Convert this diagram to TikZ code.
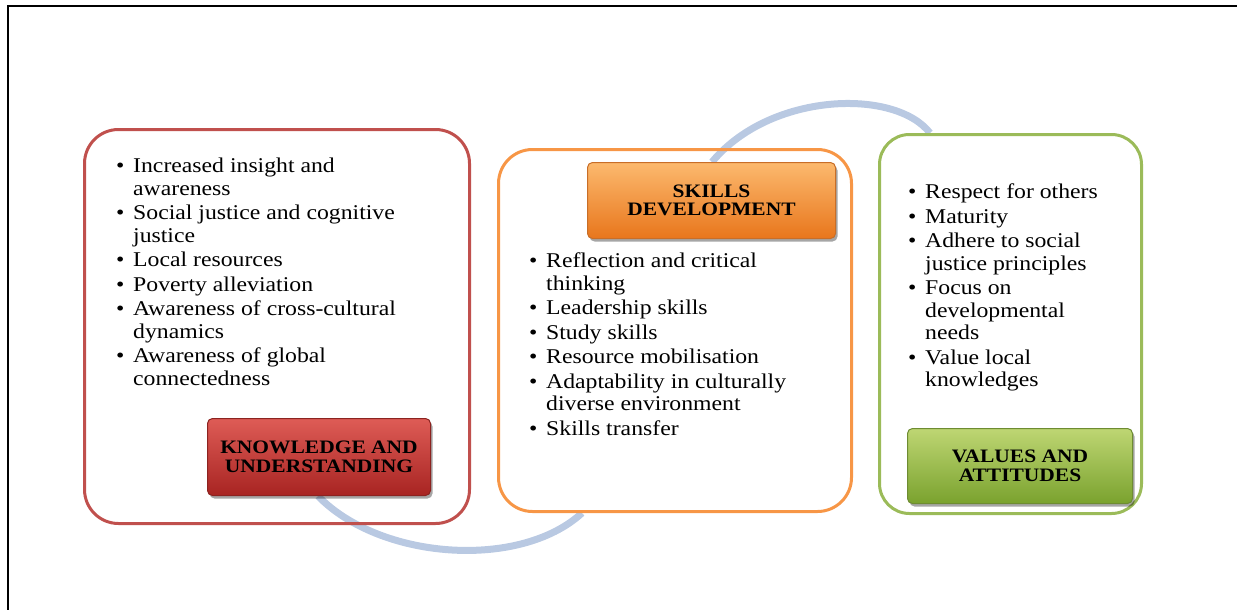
\documentclass[tikz,border=0pt]{standalone}
\usepackage{fontspec}
\usepackage{array}
\setmainfont{Liberation Serif}[FakeStretch=1.13]
\usetikzlibrary{shadows,calc,backgrounds}
\definecolor{redline}{RGB}{192,80,77}
\definecolor{orangeline}{RGB}{247,150,70}
\definecolor{greenline}{RGB}{155,187,89}
\definecolor{arcblue}{RGB}{185,201,226}
\definecolor{redtop}{RGB}{222,92,86}
\definecolor{redbot}{RGB}{168,36,34}
\definecolor{redbrd}{RGB}{140,35,32}
\definecolor{ortop}{RGB}{252,185,110}
\definecolor{orbot}{RGB}{232,118,28}
\definecolor{orbrd}{RGB}{200,110,40}
\definecolor{grtop}{RGB}{190,214,115}
\definecolor{grbot}{RGB}{122,162,46}
\definecolor{grbrd}{RGB}{110,140,50}
\tikzset{
  bigbox/.style={draw=#1, line width=3pt, rounded corners=34pt, anchor=north west, inner sep=0pt},
  headbox/.style={rounded corners=5pt, anchor=north west, align=center, inner sep=0pt,
     line width=1pt, font=\fontsize{19pt}{18.5pt}\selectfont\bfseries,
     drop shadow={shadow xshift=2pt, shadow yshift=-3pt, opacity=0.35, fill=black}},
  listtext/.style={anchor=base west, inner sep=0pt, font=\fontsize{21pt}{22.5pt}\selectfont},
  linkarc/.style={draw=arcblue, line width=7pt}
}
\newcommand{\bul}{\textbullet}
\begin{document}
\begin{tikzpicture}[x=1pt,y=-1pt]
\useasboundingbox (0,0) rectangle (1237,610);
% frame
\draw[line width=2.2pt] (8,610) -- (8,6) -- (1237,6);
% big boxes
\node[bigbox=redline, minimum width=385pt, minimum height=394pt] (kb) at (83,128) {};
\node[bigbox=orangeline, minimum width=353pt, minimum height=362pt] (sb) at (497,148) {};
\node[bigbox=greenline, rounded corners=30pt, minimum width=262pt, minimum height=379pt] (vb) at (878,133) {};
% headings
\node[headbox, top color=redtop, bottom color=redbot, draw=redbrd,
  minimum width=223pt, minimum height=77pt] (kh) at (207,418) {KNOWLEDGE AND\\UNDERSTANDING};
\node[headbox, top color=ortop, bottom color=orbot, draw=orbrd,
  minimum width=248pt, minimum height=76pt] (sh) at (587,162) {SKILLS\\DEVELOPMENT};
\node[headbox, top color=grtop, bottom color=grbot, draw=grbrd,
  minimum width=225pt, minimum height=75pt] (vh) at (907,428) {VALUES AND\\ATTITUDES};
% arcs behind the headings
\begin{scope}[on background layer]
\draw[linkarc] ($(kh.south west)+(111pt,0)$) .. controls (380,560) and (520,570) .. ($(sb.south west)+(85pt,0)$);
\draw[linkarc] ($(sh.north west)+(125pt,0)$) .. controls (770,92) and (895,88) .. ($(vb.north west)+(52pt,0)$);
\end{scope}
% lists
\node[listtext] (kl) at (116,172.5) {\begin{tabular}[t]{@{}w{l}{17pt}@{}l@{}}
\bul & Increased insight and\\ & awareness\\[2pt]
\bul & Social justice and cognitive\\ & justice\\[2pt]
\bul & Local resources\\[2pt]
\bul & Poverty alleviation\\[2pt]
\bul & Awareness of cross-cultural\\ & dynamics\\[2pt]
\bul & Awareness of global\\ & connectedness
\end{tabular}};
\node[listtext] (sl) at (529,267.5) {\begin{tabular}[t]{@{}w{l}{17pt}@{}l@{}}
\bul & Reflection and critical\\ & thinking\\[2pt]
\bul & Leadership skills\\[2pt]
\bul & Study skills\\[2pt]
\bul & Resource mobilisation\\[2pt]
\bul & Adaptability in culturally\\ & diverse environment\\[2pt]
\bul & Skills transfer
\end{tabular}};
\node[listtext] (vl) at (908,198.5) {\begin{tabular}[t]{@{}w{l}{17pt}@{}l@{}}
\bul & Respect for others\\[2pt]
\bul & Maturity\\[2pt]
\bul & Adhere to social\\ & justice principles\\[2pt]
\bul & Focus on\\ & developmental\\ & needs\\[2pt]
\bul & Value local\\ & knowledges
\end{tabular}};
\end{tikzpicture}
\end{document}
